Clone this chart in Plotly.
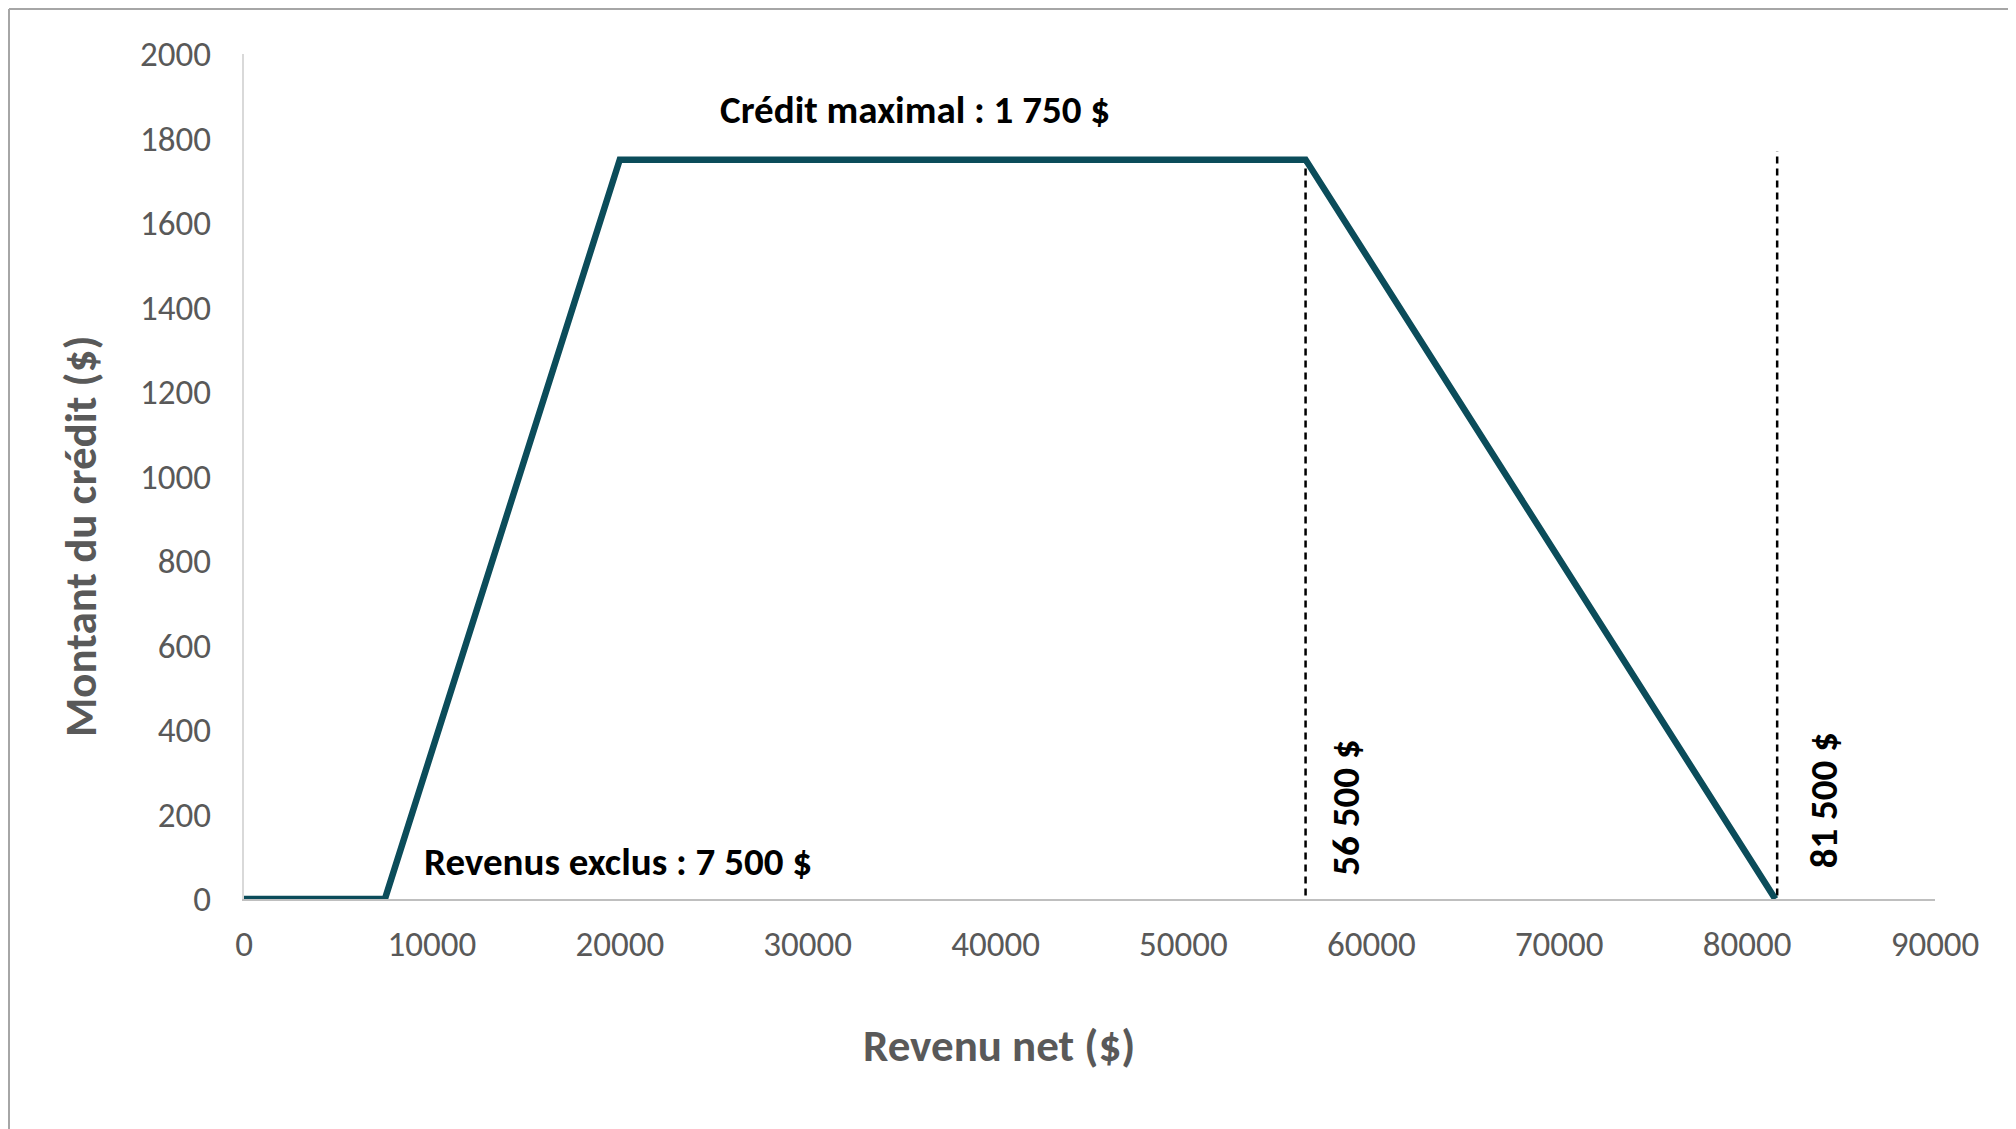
import plotly.graph_objects as go

# Data
revenu = [0, 7500, 20000, 56500, 81500]
credit = [0, 0, 1750, 1750, 0]
seuils_x = [56500, 81600]
seuils_top = [1750, 1770]
seuils_labels = ["56 500 $", "81 500 $"]
y_ticks = [0, 200, 400, 600, 800, 1000, 1200, 1400, 1600, 1800, 2000]
x_ticks = [0, 10000, 20000, 30000, 40000, 50000, 60000, 70000, 80000, 90000]

FONT = "Carlito, Calibri, Lato, sans-serif"
OFF = 8  # page body offset
W, H = 2016 - OFF, 1129 - OFF
L, R, T, B = 244 - OFF, 81, 54 - OFF, 230
pw, ph = W - L - R, H - T - B

def px(xp):
    return (xp - OFF - L) / pw

def py(yp):
    return (H - B - (yp - OFF)) / ph

fig = go.Figure()

# dashed threshold lines
for xv, top in zip(seuils_x, seuils_top):
    fig.add_trace(go.Scatter(
        x=[xv, xv], y=[-20, top], mode="lines",
        line=dict(color="black", width=2.5, dash="7px,5px"),
        hoverinfo="skip", showlegend=False, cliponaxis=False,
    ))

fig.add_trace(go.Scatter(
    x=revenu, y=credit, mode="lines",
    line=dict(color="#0B4C5A", width=6.5),
    showlegend=False, cliponaxis=False,
))

annotations = [
    dict(x=35700, y=1869, text="<b>Crédit maximal : 1 750 $</b>", showarrow=False,
         font=dict(family=FONT, size=39, color="black"), xanchor="center", yanchor="middle"),
    dict(x=9500, y=88, text="<b>Revenus exclus : 7 500 $</b>", showarrow=False,
         font=dict(family=FONT, size=39, color="black"), xanchor="left", yanchor="middle"),
]
for xv, yv, lab in zip([58650, 84050], [216, 234], seuils_labels):
    annotations.append(dict(x=xv, y=yv, text="<b>" + lab + "</b>", showarrow=False, textangle=-90,
                            font=dict(family=FONT, size=39, color="black"),
                            xanchor="center", yanchor="middle"))

# axis titles
annotations.append(dict(xref="paper", yref="paper", x=px(999), y=py(1045),
                        text="<b>Revenu net ($)</b>", showarrow=False,
                        font=dict(family=FONT, size=45, color="#595959"),
                        xanchor="center", yanchor="middle"))
annotations.append(dict(xref="paper", yref="paper", x=px(80), y=py(537),
                        text="<b>Montant du crédit ($)</b>", showarrow=False, textangle=-90,
                        font=dict(family=FONT, size=45, color="#595959"),
                        xanchor="center", yanchor="middle"))

shapes = [
    dict(type="line", xref="paper", yref="paper", x0=px(9), x1=px(2016 + 5), y0=py(9), y1=py(9),
         line=dict(color="#A6A6A6", width=2)),
    dict(type="line", xref="paper", yref="paper", x0=px(9), x1=px(9), y0=py(9), y1=py(1129 + 5),
         line=dict(color="#A6A6A6", width=2)),
]

fig.update_layout(
    width=W, height=H,
    margin=dict(l=L, r=R, t=T, b=B),
    paper_bgcolor="white", plot_bgcolor="white",
    font=dict(family=FONT, color="#595959"),
    annotations=annotations, shapes=shapes,
    showlegend=False,
)
fig.update_xaxes(range=[0, 90000], tickvals=x_ticks, ticktext=[str(v) for v in x_ticks],
                 showgrid=False, zeroline=False, showline=True, linecolor="#BFBFBF", linewidth=2,
                 ticks="", tickfont=dict(family=FONT, size=35, color="#595959"), ticklabelstandoff=13)
fig.update_yaxes(range=[0, 2000], tickvals=y_ticks, ticktext=[str(v) for v in y_ticks],
                 showgrid=False, zeroline=False, showline=True, linecolor="#D9D9D9", linewidth=2,
                 ticks="", tickfont=dict(family=FONT, size=35, color="#595959"), ticklabelstandoff=24)

fig.write_html("out.html")
